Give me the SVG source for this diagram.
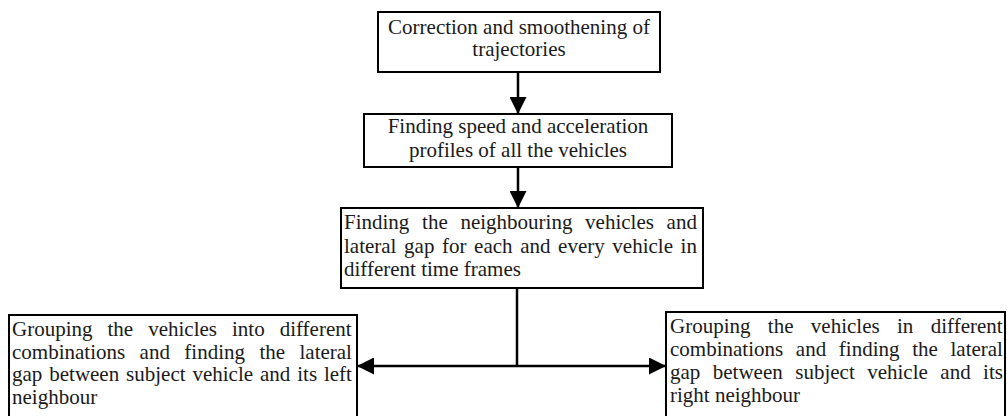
<svg xmlns="http://www.w3.org/2000/svg" width="1007" height="416" viewBox="0 0 1007 416">
<style>
.box{fill:#fff;stroke:#000;stroke-width:2}
.t{font-family:"Liberation Serif","Times New Roman",serif;font-size:21px;fill:#1a1a1a}
.c{text-anchor:middle}
.ln{stroke:#000;stroke-width:2.5;fill:none}
</style>
<defs>
<marker id="ah" viewBox="0 0 10 10" refX="10" refY="5" markerUnits="userSpaceOnUse" markerWidth="17" markerHeight="17" orient="auto">
<path d="M0,0 L10,5 L0,10 Z" fill="#000"/>
</marker>
</defs>
<rect width="1007" height="416" fill="#fff"/>
<g id="connectors">
<line class="ln" x1="518" y1="72" x2="518" y2="114" marker-end="url(#ah)"/>
<line class="ln" x1="518" y1="167" x2="518" y2="208" marker-end="url(#ah)"/>
<line class="ln" x1="517" y1="288" x2="517" y2="366"/>
<line class="ln" x1="517" y1="366" x2="357" y2="366" marker-end="url(#ah)"/>
<line class="ln" x1="517" y1="366" x2="666" y2="366" marker-end="url(#ah)"/>
</g>
<g id="n1">
<rect class="box" x="378" y="12" width="282" height="60"/>
<text class="t c" x="519" y="33.5">Correction and smoothening of</text>
<text class="t c" x="519" y="56">trajectories</text>
</g>
<g id="n2">
<rect class="box" x="364" y="114" width="308" height="53"/>
<text class="t c" x="518" y="133">Finding speed and acceleration</text>
<text class="t c" x="518" y="157">profiles of all the vehicles</text>
</g>
<g id="n3">
<rect class="box" x="341" y="208" width="362" height="80"/>
<text class="t" x="344" y="229" word-spacing="7.45">Finding the neighbouring vehicles and</text>
<text class="t" x="344" y="252.5" word-spacing="2.36">lateral gap for each and every vehicle in</text>
<text class="t" x="344" y="276">different time frames</text>
</g>
<g id="n4">
<rect class="box" x="9" y="315" width="348" height="104"/>
<text class="t" x="12" y="336" word-spacing="9.76">Grouping the vehicles into different</text>
<text class="t" x="12" y="358.5" word-spacing="9.17">combinations and finding the lateral</text>
<text class="t" x="12" y="381" word-spacing="1.65">gap between subject vehicle and its left</text>
<text class="t" x="12" y="403.5">neighbour</text>
</g>
<g id="n5">
<rect class="box" x="666" y="312" width="339" height="107"/>
<text class="t" x="670" y="333" word-spacing="12.1">Grouping the vehicles in different</text>
<text class="t" x="670" y="356" word-spacing="7.42">combinations and finding the lateral</text>
<text class="t" x="670" y="379" word-spacing="7.23">gap between subject vehicle and its</text>
<text class="t" x="670" y="401.5">right neighbour</text>
</g>
</svg>
